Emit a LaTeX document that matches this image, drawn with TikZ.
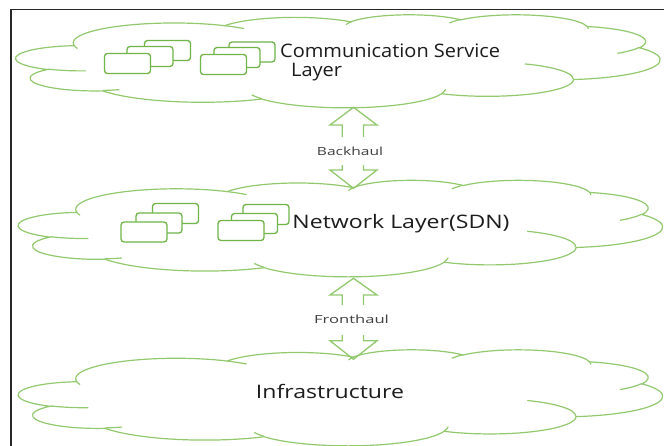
\documentclass[tikz,border=0pt]{standalone}
\usepackage{fontspec}
\setmainfont{Open Sans}
\usepackage{graphicx}
\definecolor{cloudgreen}{RGB}{146,200,110}
\definecolor{rectgreen}{RGB}{112,180,72}
\definecolor{framegray}{RGB}{40,40,40}
\definecolor{bigtxt}{RGB}{28,28,28}
\definecolor{smalltxt}{RGB}{64,64,64}
\newcommand\cldprep[5]{%
  \pgfmathsetmacro\cldT{atan2((#2)*sin(#4),(#3)*cos(#4))}%
  \pgfmathsetmacro\cldE{atan2((#2)*sin((#4)+(#5)),(#3)*cos((#4)+(#5)))}%
  \pgfmathsetmacro\cldD{\cldE-\cldT}%
  \pgfmathsetmacro\cldD{\cldD+((#5)>0)*(\cldD<0)*360-((#5)<0)*(\cldD>0)*360}%
  \expandafter\xdef\csname cldarc#1\endcsname{arc[x radius=#2,y radius=#3,start angle=\cldT,delta angle=\cldD]}%
}
\tikzset{
  cloudline/.style={draw=cloudgreen, line width=1.2pt},
  card/.style={draw=rectgreen, line width=1.3pt, fill=white, rounded corners=3pt,
    minimum width=46pt, minimum height=20pt, inner sep=0pt},
  bigtext/.style={text=bigtxt, inner sep=0pt, font=\fontsize{18.6}{18.4}\selectfont},
  lbl/.style={text=smalltxt, fill=white, inner ysep=0pt, inner xsep=2pt, font=\fontsize{11.2}{13}\selectfont},
  blockarrow/.style={draw=cloudgreen, line width=1.3pt, line join=miter}
}
\newcommand\drawcloud[4]{%
  \begin{scope}[shift={(#1,#2)}, x=#3pt, y=-#4pt]
    \filldraw[cloudline, fill=white] (3.900,14.370) \cldarcA \cldarcB \cldarcC \cldarcD \cldarcE \cldarcF \cldarcG \cldarcH \cldarcI \cldarcJ \cldarcK -- cycle;
    \draw[cloudline] (4.693,26.177) \cldarcL (6.928,34.899) \cldarcM (16.478,39.090) \cldarcN (28.827,34.751) \cldarcO (34.129,22.954) \cldarcP (41.798,15.354) \cldarcQ (38.324,5.426) \cldarcR (29.078,3.952) \cldarcS (22.141,4.720) \cldarcT (14.000,5.192) \cldarcU (4.127,15.789) \cldarcV;
  \end{scope}}
\begin{document}
\begin{tikzpicture}[x=1pt,y=-1pt]
\cldprep{A}{6.753}{9.190}{-190.4875}{123.7805}
\cldprep{B}{5.333}{7.267}{-144.1024}{89.9452}
\cldprep{C}{4.365}{5.945}{-145.8079}{99.7230}
\cldprep{D}{4.857}{6.595}{-130.9861}{117.2417}
\cldprep{E}{5.333}{7.273}{-78.7089}{109.0269}
\cldprep{F}{6.775}{9.220}{-46.2673}{130.2690}
\cldprep{G}{5.785}{7.867}{0.6250}{114.0333}
\cldprep{H}{6.752}{9.215}{22.4516}{115.1726}
\cldprep{I}{7.720}{10.543}{66.2426}{75.7110}
\cldprep{J}{4.360}{5.918}{-274.9421}{146.7356}
\cldprep{K}{4.345}{5.945}{-246.8285}{152.5189}
\cldprep{L}{4.345}{5.945}{86.7420}{26.4295}
\cldprep{M}{4.360}{5.918}{73.6105}{11.4475}
\cldprep{N}{6.752}{9.215}{137.6242}{14.0811}
\cldprep{O}{6.752}{9.215}{6.4533}{15.9984}
\cldprep{P}{5.785}{7.867}{-70.2924}{70.9174}
\cldprep{Q}{5.333}{7.273}{30.3180}{27.7515}
\cldprep{R}{4.857}{6.595}{-13.7443}{14.8589}
\cldprep{S}{4.857}{6.595}{-149.1815}{18.1954}
\cldprep{T}{4.365}{5.945}{-163.4943}{17.6864}
\cldprep{U}{6.753}{9.190}{-66.7070}{12.3194}
\cldprep{V}{6.753}{9.190}{157.6544}{11.8582}
\useasboundingbox (0,0) rectangle (664,446);
\fill[white] (0,0) rectangle (664,446);
% frame
\draw[framegray, line width=1.4pt] (664,9.5) -- (11,9.5) -- (11,446);
% clouds
\drawcloud{16}{14.5}{14.907}{2.1528}
\drawcloud{18.5}{180}{14.907}{2.2338}
\drawcloud{18.5}{349.5}{14.907}{2.2222}
% block arrows
\draw[blockarrow] (353.5,107.3) -- (377,125) -- (363.5,125) -- (363.5,170) -- (377,170) -- (353.5,188.3)
  -- (330,170) -- (342.3,170) -- (342.3,125) -- (330,125) -- cycle;
\draw[blockarrow] (353.5,278.3) -- (377,295) -- (363.5,295) -- (363.5,340.7) -- (377,340.7) -- (353.5,359.3)
  -- (330,340.7) -- (342.3,340.7) -- (342.3,295) -- (330,295) -- cycle;
% cards in top cloud
\node[card] (t1a) at (167.5,50.5) {};
\node[card] (t1b) at (150,56.5) {};
\node[card] (t1c) at (127.5,63.5) {};
\node[card] (t2a) at (252,52) {};
\node[card] (t2b) at (237,57.5) {};
\node[card] (t2c) at (223.5,64.5) {};
% cards in middle cloud
\node[card] (m1a) at (175.5,213.5) {};
\node[card] (m1b) at (159,223) {};
\node[card] (m1c) at (144,232) {};
\node[card] (m2a) at (266,214.5) {};
\node[card] (m2b) at (254.5,223.5) {};
\node[card] (m2c) at (241,230.5) {};
% texts
\node[bigtext, anchor=base west] (comm) at (280,57.3) {\scalebox{1.075}[1]{\begin{tabular}[t]{@{}l@{}}Communication Service\\\hspace*{10.2pt}Layer\end{tabular}}};
\node[bigtext, anchor=base] (net) at (401,228.5) {\scalebox{1.24}[1]{Network Layer(SDN)}};
\node[bigtext, anchor=base] (infra) at (330,398.3) {\scalebox{1.24}[1]{Infrastructure}};
\node[lbl, anchor=base, text height=19pt, text depth=9pt] (back) at (350,156) {\scalebox{1.39}[1]{Backhaul}};
\node[lbl, anchor=base, text height=18.3pt, text depth=11.7pt] (front) at (351.5,323.3) {\scalebox{1.48}[1]{Fronthaul}};
\end{tikzpicture}
\end{document}
